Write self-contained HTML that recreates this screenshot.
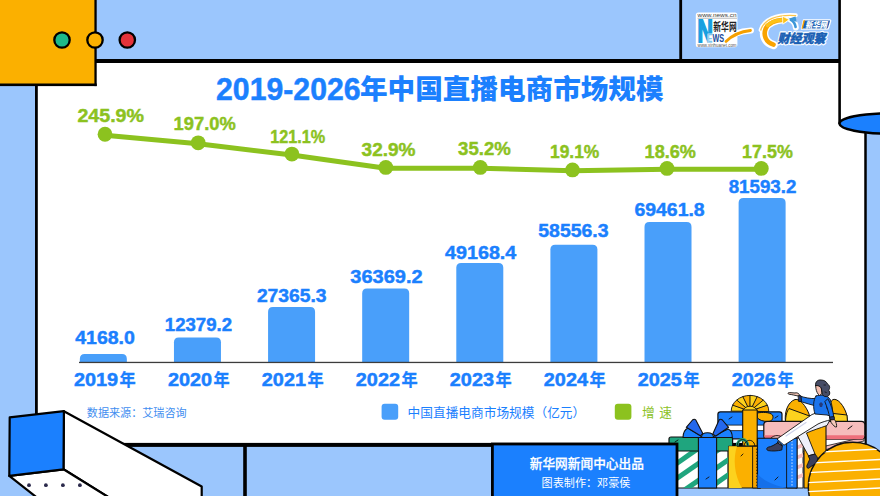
<!DOCTYPE html>
<html><head><meta charset="utf-8"><title>2019-2026年中国直播电商市场规模</title>
<style>
html,body{margin:0;padding:0;width:880px;height:496px;overflow:hidden;background:#9bc6fd;}
svg{display:block;position:absolute;left:0;top:0}
text{font-family:"Liberation Sans","Noto Sans CJK SC",sans-serif;}
.cjk{font-family:"Liberation Sans","Noto Sans CJK SC",sans-serif;}
</style></head><body>
<svg width="880" height="496" viewBox="0 0 880 496">
<!-- BACKGROUND -->
<rect width="880" height="496" fill="#9bc6fd"/>
<rect x="840" y="0" width="40" height="124" fill="#fff"/>
<rect x="37" y="61" width="803" height="384" fill="#fff"/>
<rect x="839" y="124" width="27" height="321" fill="#fff"/>

<!-- frame lines -->
<rect x="35" y="60" width="2.8" height="360" fill="#000"/>
<rect x="95" y="59" width="745" height="4" fill="#000"/>
<rect x="679.3" y="0" width="2.8" height="61" fill="#000"/>
<rect x="838.3" y="0" width="2.6" height="124" fill="#000"/>
<rect x="36" y="442.9" width="830" height="4" fill="#000"/>
<rect x="243.2" y="444" width="3.6" height="52" fill="#000"/>

<!-- orange box -->
<rect x="0" y="0" width="95.4" height="85" fill="#fbb000"/>
<rect x="94.4" y="0" width="2.3" height="86.1" fill="#000"/>
<rect x="0" y="83.5" width="96.7" height="2.6" fill="#000"/>
<circle cx="62" cy="40" r="7.7" fill="#1db98b" stroke="#000" stroke-width="2.3"/>
<circle cx="95" cy="40" r="7.7" fill="#fbb000" stroke="#000" stroke-width="2.3"/>
<circle cx="127.3" cy="40" r="7.7" fill="#e5333a" stroke="#000" stroke-width="2.3"/>

<!-- cylinder right -->
<rect x="865.5" y="124" width="20" height="380" fill="#9bc6fd" stroke="#000" stroke-width="2.5"/>
<ellipse cx="889.5" cy="123.5" rx="50" ry="10.2" fill="#1b80fe" stroke="#000" stroke-width="2.4"/>

<g id="illus" stroke-linejoin="round" stroke-linecap="round">
<!-- back blue gift -->
<rect x="717.9" y="411.8" width="64.1" height="27" rx="2.5" fill="#1b80fe" stroke="#111" stroke-width="1.2"/>
<rect x="718.4" y="425.1" width="63" height="5.5" fill="#fff" stroke="#111" stroke-width="0.8"/>
<path d="M757.5,413 C762,412 770,412 772.5,415 C774,418 772,421.5 768,421.5 C763,421.5 759,420 757.5,418 Z" fill="#fbb000" stroke="#111" stroke-width="1"/>
<path d="M729,419 l3,-2 M775,418 l3,-2" stroke="#111" stroke-width="0.9"/>
<!-- yellow fan bow -->
<g stroke="#111" stroke-width="0.9" stroke-linejoin="round">
<path d="M750,411.2 L731.20,411.20 A18.8,15.8 0 0 1 732.63,405.15 Z" fill="#fcd21e"/>
<path d="M750,411.2 L732.63,405.15 A18.8,15.8 0 0 1 736.71,400.03 Z" fill="#fbb000"/>
<path d="M750,411.2 L736.71,400.03 A18.8,15.8 0 0 1 742.81,396.60 Z" fill="#fcd21e"/>
<path d="M750,411.2 L742.81,396.60 A18.8,15.8 0 0 1 750.00,395.40 Z" fill="#fbb000"/>
<path d="M750,411.2 L750.00,395.40 A18.8,15.8 0 0 1 757.19,396.60 Z" fill="#fcd21e"/>
<path d="M750,411.2 L757.19,396.60 A18.8,15.8 0 0 1 763.29,400.03 Z" fill="#fbb000"/>
<path d="M750,411.2 L763.29,400.03 A18.8,15.8 0 0 1 767.37,405.15 Z" fill="#fcd21e"/>
<path d="M750,411.2 L767.37,405.15 A18.8,15.8 0 0 1 768.80,411.20 Z" fill="#fbb000"/>
<path d="M743,411.2 A7,5 0 0 1 757,411.2 Z" fill="#fcd21e"/>
</g>
<rect x="742.7" y="410" width="14.5" height="36" fill="#fbb000" stroke="#111" stroke-width="1.1"/>
<!-- orange bows behind pink box -->
<g stroke="#111" stroke-width="1">
<path d="M785.5,422 C784,412 788,402 795,399.5 C800,398.5 806,406 809,414 L811,422 Z" fill="#fbb000"/>
<path d="M785.5,422 C785.5,416 787,411 789,408.5 L809.5,416 L811,422 Z" fill="#fcd21e"/>
<path d="M826,422 C827,412 829,402 833,399.5 C838,398 844,406 846.5,414 L847.5,422 Z" fill="#fbb000"/>
<path d="M828,422 L829,413 L847,415 L847.5,422 Z" fill="#fcd21e"/>
</g>
<!-- pink gift -->
<rect x="790" y="438" width="75" height="16" fill="#fff" stroke="#111" stroke-width="1"/>
<path d="M800,452 L860,438 L864,438 L864,441 L806,454 Z" fill="#f6bcbc" stroke="#111" stroke-width="0.8"/>
<rect x="763.8" y="421.3" width="101" height="17.9" rx="3.5" fill="#f6bcbc" stroke="#111" stroke-width="1.2"/>
<path d="M764.5,435.3 H864.2 V436 Q864.2,439.2 861,439.2 H767.5 Q764.5,439.2 764.5,436.5 Z" fill="#ee6f7b"/>
<path d="M848,429 l4,-3" stroke="#111" stroke-width="1"/>
<!-- orange ribbon on pink -->
<rect x="804" y="421.5" width="22" height="66.5" fill="#fbb000" stroke="#111" stroke-width="1.1"/>
<!-- pink loops (ribbon coil) -->
<g fill="none" stroke="#111" stroke-width="0.9">
<path d="M768,446 C768,432 786,432 786,446" fill="#f6bcbc"/>
<path d="M772,446 C772,436 790,436 790,446"/>
</g>
<!-- green gift left -->
<rect x="676" y="450" width="52" height="38" fill="#fff" stroke="#111" stroke-width="1.2"/>
<g fill="#1fa57e">
<path d="M676,461 L690,451 L699,451 L676,467 Z"/>
<path d="M676,476 L712,451 L721,451 L676,482 Z"/>
<path d="M683,488 L728,457 L728,463 L692,488 Z"/>
<path d="M705,488 L728,472 L728,478 L714,488 Z"/>
</g>
<rect x="669" y="437" width="63.6" height="14" rx="2" fill="#1fa57e" stroke="#111" stroke-width="1.2"/>
<rect x="698.4" y="437" width="18.2" height="51" fill="#1b80fe" stroke="#111" stroke-width="1.1"/>
<path d="M675,442 l3,-2 M706,479 l3,-2" stroke="#111" stroke-width="0.9"/>
<!-- blue bow -->
<g stroke="#111" stroke-width="1.1" stroke-linejoin="round">
<path d="M683,437.5 C683,433 685,429.5 688,428 L701,436 L701,437.5 Z" fill="#1b80fe"/>
<path d="M732.3,437.5 C732.3,433 730.5,430 728,429 L714,436 L714,437.5 Z" fill="#1b80fe"/>
<path d="M686.3,427.3 L692.5,420 C693.5,419 695,419 695.8,420 L702.8,433.4 L700.4,435.8 Z" fill="#2468ee"/>
<path d="M728.6,427.3 L722.4,420 C721.4,419 719.9,419 719.1,420 L712.9,433.8 L715.5,436.2 Z" fill="#2468ee"/>
<path d="M701.5,437.5 C701.5,434 704,432.8 707.5,432.8 C711,432.8 713.5,434 713.5,437.5 Z" fill="#1b80fe"/>
</g>
<!-- green handles -->
<g fill="none" stroke="#111" stroke-width="1">
<path d="M737,447 C737,437 748,437 748,447" stroke-width="3" stroke="#1fa57e"/>
<path d="M737,447 C737,437 748,437 748,447"/>
<path d="M744,447 C744,438 755,438 755,447"/>
</g>
<!-- yellow bag -->
<path d="M728.7,446.3 H760.5 V488 H728.7 Z" fill="#fbb000" stroke="#111" stroke-width="1.1"/>
<path d="M728.7,446.3 H737 C733,458 734,475 742,488 H728.7 Z" fill="#fcd21e"/>
<rect x="753" y="446.3" width="7.5" height="41.7" fill="#f5a400" stroke="#111" stroke-width="0.9"/>
<path d="M756.7,449 V486" stroke="#111" stroke-width="0.8" stroke-dasharray="0.8 2.2"/>
<path d="M741,456 l2,-2" stroke="#111" stroke-width="0.9"/>
<!-- candy stick -->
<rect x="796" y="438" width="7" height="50" fill="#fff" stroke="#111" stroke-width="0.9"/>
<path d="M796,446 l7,-3 v4 l-7,3 z M796,456 l7,-3 v4 l-7,3 z M796,466 l7,-3 v4 l-7,3 z M796,476 l7,-3 v4 l-7,3 z" fill="#f6bcbc"/>
<!-- blue bag -->
<path d="M757.5,438.3 H797 V488 H757.5 Z" fill="#1b80fe" stroke="#111" stroke-width="1.1"/>
<path d="M757.5,474 C765,482 775,486 788,488 H757.5 Z" fill="#1570ea"/>
<rect x="787" y="438.3" width="10" height="49.7" fill="#1b80fe" stroke="#111" stroke-width="0.9"/>
<path d="M792,441 V486" stroke="#d8e8ff" stroke-width="0.9" stroke-dasharray="0.9 2.2"/>
<path d="M775,480 l3,-3" stroke="#111" stroke-width="0.9"/>
<!-- orange striped ball -->
<clipPath id="ballclip"><circle cx="852.8" cy="486.8" r="44.5"/></clipPath>
<circle cx="852.8" cy="486.8" r="44.5" fill="#fbb000" stroke="#111" stroke-width="1.4"/>
<g clip-path="url(#ballclip)" stroke="#fff" stroke-width="1.3" fill="none">
<path d="M800,453 L880,449"/>
<path d="M800,463.5 L880,459.5"/>
<path d="M800,473 L880,469"/>
<path d="M800,483 L880,479"/>
<path d="M800,492 L880,488"/>
</g>
<!-- woman -->
<g stroke="#111" stroke-width="0.9">
<!-- back leg -->
<path d="M831,418 L827,425.5 C820,428 812,430.5 806.5,433 L815,454 L808.5,455.8 L797,435 C796,432.5 797.5,430 800,428.5 C808,424 815,420 822,417 Z" fill="#eef0fa"/>
<path d="M808.5,455.8 L815,454 L816.8,456.5 C818.5,458.5 817.5,461.5 814,464.5 L808.5,468.3 C806.5,468.3 806.3,466 807.8,463.5 L809.6,459.5 Z" fill="#3b3f5c"/>
<!-- front leg -->
<path d="M830,410.5 L831.5,419.5 C826,421 822,422 818,424 L784,445.2 L777,439 L812,414.5 C818,412 824,411 830,410.5 Z" fill="#fff"/>
<path d="M786,436 L806,422.5" stroke="#cfd3ea" stroke-width="1.3"/>
<path d="M778,441.5 L782.5,445.5 L779,444.5 Z" fill="#f6c0b0"/>
<path d="M777.5,442.8 L782.3,446 L781.8,450 C777.5,451 772.5,451.3 768.2,450.6 C766.3,450.1 766.2,447.8 768.2,447.2 C771.5,446.6 774.5,445 777.5,442.8 Z" fill="#3b3f5c"/>
<!-- extended arm -->
<path d="M816,398.5 C810,399 805,397.5 799.5,396 L800.5,401.5 C806,403 811,405 816,406 Z" fill="#1b74ec"/>
<path d="M798.5,395.5 L801,395.8 L801.5,401.5 L799,401.5 Z" fill="#233a7a"/>
<path d="M798.5,396 C795,395.5 792,394.5 789,394.2 C787.5,393.8 787.8,392.4 789.5,392.6 L795,393 C796.5,392.5 798,393 799,394 Z" fill="#f6c8b8"/>
<!-- torso -->
<path d="M816,396 C821,394 828,395 830.5,400 C832,405 833,411 833,417 L827,415 L815,414 C813,408 813,400 816,396 Z" fill="#1b74ec"/>
<path d="M819,404 l2,-2 l2,2 l-1,3 l-2,0 z M826,407 l1.5,-1.5 l1.5,1.5 l-0.8,2 l-1.5,0 z" fill="#233a7a" stroke="none"/>
<!-- hanging arm -->
<path d="M828,399 C831,404 833,411 834,418 L830,419 C829,413 827,407 825,402 Z" fill="#1b74ec"/>
<path d="M830,417 L834,416.5 L834.5,419.5 L830.5,420 Z" fill="#233a7a"/>
<path d="M830.5,420 L834.5,419.5 C836,422 837,425 836.5,427 C835,427.5 833,425 831.5,423 Z" fill="#f6c8b8"/>
<!-- head -->
<path d="M816,385 L821,385.5 L822,393.5 L819.5,395.5 C817.5,394 816.5,391.5 816,389 Z" fill="#f6c0b0"/>
<path d="M815.6,385.5 C815,381.5 818,379.6 821,380 C824,380 826.5,381.5 827.5,384 C829.8,385.2 830.4,388.2 828.6,390.2 C830.6,392.2 830,396.2 826.6,396.6 C824,397 822.2,395.2 822.2,393 L821.2,388 C820.2,386.2 818,385.3 815.6,385.5 Z" fill="#474d66"/>
<path d="M824,385 l1.5,0 M825,392 l1.3,0.5" stroke="#111" stroke-width="0.8"/>
</g>
</g>

<!-- credit box -->
<rect x="492.4" y="444" width="184.6" height="60" fill="#1b80fe" stroke="#000" stroke-width="2.8"/>
<text x="586.8" y="467.6" text-anchor="middle" font-size="12.7" font-weight="500" fill="#fff" stroke="#fff" stroke-width="0.25">新华网新闻中心出品</text>
<text x="586" y="486.5" text-anchor="middle" font-size="11.1" fill="#fff">图表制作：邓豪侯</text>

<!-- 3D box bottom-left -->
<polygon points="63.9,411.2 201.7,486.5 201.7,500 113,500 63.5,469.3" fill="#fff" stroke="#000" stroke-width="2.2" stroke-linejoin="round"/>
<polygon points="9.3,475.9 63.5,469.3 113,500 40,500" fill="#fff" stroke="#000" stroke-width="2.2" stroke-linejoin="round"/>
<polygon points="9.7,417.4 63.9,411.2 63.5,469.3 9.3,475.9" fill="#1b80fe" stroke="#000" stroke-width="2.2" stroke-linejoin="round"/>
<g fill="#2b2a4c"><circle cx="29" cy="485.2" r="1.9"/><circle cx="45.9" cy="485.2" r="1.9"/><circle cx="62.9" cy="485.2" r="1.9"/><circle cx="79.9" cy="485.2" r="1.9"/></g>

<g id="logos">
<!-- news logo -->
<path d="M722,42 C730,35 741,31 751,30.5" stroke="#fff" stroke-width="6" fill="none" stroke-linecap="round"/>
<rect x="695.8" y="12.4" width="41.6" height="34.8" rx="2.5" fill="#fff"/>
<text x="717" y="17" text-anchor="middle" font-size="5.4" fill="#3a3a3a" font-family="Liberation Sans" textLength="39" lengthAdjust="spacingAndGlyphs">www.news.cn</text>
<rect x="697.5" y="17.8" width="39.5" height="0.7" fill="#9a9a9a"/>
<text x="697.6" y="41.6" font-size="30.5" font-weight="bold" fill="#16a0e0" stroke="#16a0e0" stroke-width="1.8" transform="translate(697.6,0) scale(0.7,1) translate(-697.6,0)">N</text>
<rect x="707.6" y="33.6" width="17" height="9" fill="#fff"/>
<text x="713.3" y="31" font-size="11.6" font-weight="bold" fill="#222" textLength="23.4" lengthAdjust="spacingAndGlyphs">新华网</text>
<text x="707.6" y="42.2" font-size="10.2" font-weight="bold" fill="#1a4c9a" textLength="16.5" lengthAdjust="spacingAndGlyphs"><tspan fill="#7ec7ef">E</tspan>WS</text>
<path d="M726,41.5 C732,35.5 741,31.5 750.5,30.5" stroke="#f5a000" stroke-width="2.8" fill="none" stroke-linecap="round"/>
<text x="717" y="46.6" text-anchor="middle" font-size="4.6" fill="#555" font-family="Liberation Sans" textLength="39" lengthAdjust="spacingAndGlyphs">www.xinhuanet.com</text>
<!-- finance logo -->
<g fill="none" stroke-linecap="round" stroke-linejoin="round">
<path d="M773.5,45 C765,42.5 762.5,35 765,28.5 C768,22.5 775.5,19.5 784,19" stroke="#fff" stroke-width="8.5"/>
<path d="M760.6,30.1 C762,25 766,20.5 772,18 C780,15 788,14.6 795.8,15.3" stroke="#fff" stroke-width="4"/>
<path d="M790.5,19.5 C793.5,21 795.5,24 795.8,27.5" stroke="#fff" stroke-width="6"/>
<path d="M773.5,44.6 C765.5,42.2 763.2,35 765.6,28.8 C768.4,23 775.5,20.2 783.5,19.8" stroke="#f9a300" stroke-width="4.6"/>
<path d="M767.5,25.5 C770.5,22 776,20.2 783.5,19.8" stroke="#fcc21a" stroke-width="3.6"/>
<path d="M760.8,30 C762.2,25.2 766.2,20.8 772.2,18.3 C780,15.4 788,15 795.6,15.6" stroke="#fcc64a" stroke-width="1.4"/>
<path d="M790.8,19.8 C793.6,21.2 795.2,24 795.6,27" stroke="#3d97d8" stroke-width="2.6"/>
</g>
<path d="M782.5,16.2 L789.2,19.6 L782.8,24.2 Z" fill="#fcc21a" stroke="#fff" stroke-width="0.8" stroke-linejoin="round"/>
<path d="M788.5,18.8 L795.5,16.5 L796.8,22 Z" fill="#3d97d8"/>
<path d="M803.5,19.9 H829.6 Q831,19.9 830.6,21.2 L828.6,28 Q828.3,29.2 827,29.2 H801.5 Z" fill="#1a5fb4" stroke="#fff" stroke-width="1.3" stroke-linejoin="round"/>
<path d="M803.4,20.3 H805 L802.9,28.8 H801.5 Z" fill="#f9a300"/>
<text x="805.2" y="27.9" font-size="8.6" font-weight="900" font-style="italic" fill="#fff" textLength="22" lengthAdjust="spacingAndGlyphs">新华网</text>
<text x="777.5" y="42.6" font-size="12.6" font-weight="900" font-style="italic" fill="#fff" stroke="#fff" stroke-width="2.6" stroke-linejoin="round" textLength="48" lengthAdjust="spacingAndGlyphs">财经观察</text>
<text x="777.5" y="42.6" font-size="12.6" font-weight="900" font-style="italic" fill="#1a5fb4" stroke="#1a5fb4" stroke-width="0.4" textLength="48" lengthAdjust="spacingAndGlyphs">财经观察</text>
</g>

<!-- TITLE -->
<text x="216" y="99.9" font-size="31.4" font-weight="bold" fill="#1b80fe" stroke="#1b80fe" stroke-width="0.5" textLength="144.6" lengthAdjust="spacingAndGlyphs">2019-2026</text>
<text x="360" y="99.2" font-size="27.6" font-weight="900" fill="#1b80fe">年中国直播电商市场规模</text>

<!-- CHART -->
<g id="chart">
<path d="M79.85,362.2 V358.90 Q79.85,354.10 84.65,354.10 H122.05 Q126.85,354.10 126.85,358.90 V362.2 Z" fill="#499ffa"/>
<path d="M173.96,362.2 V342.20 Q173.96,337.40 178.76,337.40 H216.16 Q220.96,337.40 220.96,342.20 V362.2 Z" fill="#499ffa"/>
<path d="M268.07,362.2 V311.90 Q268.07,307.10 272.87,307.10 H310.27 Q315.07,307.10 315.07,311.90 V362.2 Z" fill="#499ffa"/>
<path d="M362.18,362.2 V293.40 Q362.18,288.60 366.98,288.60 H404.38 Q409.18,288.60 409.18,293.40 V362.2 Z" fill="#499ffa"/>
<path d="M456.29,362.2 V267.70 Q456.29,262.90 461.09,262.90 H498.49 Q503.29,262.90 503.29,267.70 V362.2 Z" fill="#499ffa"/>
<path d="M550.40,362.2 V249.50 Q550.40,244.70 555.20,244.70 H592.60 Q597.40,244.70 597.40,249.50 V362.2 Z" fill="#499ffa"/>
<path d="M644.51,362.2 V226.90 Q644.51,222.10 649.31,222.10 H686.71 Q691.51,222.10 691.51,226.90 V362.2 Z" fill="#499ffa"/>
<path d="M738.62,362.2 V202.70 Q738.62,197.90 743.42,197.90 H780.82 Q785.62,197.90 785.62,202.70 V362.2 Z" fill="#499ffa"/>
<rect x="79" y="361.8" width="754" height="1.3" fill="#3c3c3c"/>
<text x="75.2" y="343.8" textLength="59.7" lengthAdjust="spacingAndGlyphs" font-size="18.2" font-weight="bold" fill="#1b80fe" stroke="#1b80fe" stroke-width="0.45">4168.0</text>
<text x="164.8" y="330.5" textLength="67.3" lengthAdjust="spacingAndGlyphs" font-size="18.2" font-weight="bold" fill="#1b80fe" stroke="#1b80fe" stroke-width="0.45">12379.2</text>
<text x="256.9" y="302.3" textLength="69.7" lengthAdjust="spacingAndGlyphs" font-size="18.2" font-weight="bold" fill="#1b80fe" stroke="#1b80fe" stroke-width="0.45">27365.3</text>
<text x="350.3" y="283.0" textLength="72.3" lengthAdjust="spacingAndGlyphs" font-size="18.2" font-weight="bold" fill="#1b80fe" stroke="#1b80fe" stroke-width="0.45">36369.2</text>
<text x="445.0" y="258.8" textLength="71.3" lengthAdjust="spacingAndGlyphs" font-size="18.2" font-weight="bold" fill="#1b80fe" stroke="#1b80fe" stroke-width="0.45">49168.4</text>
<text x="538.3" y="237.3" textLength="70.3" lengthAdjust="spacingAndGlyphs" font-size="18.2" font-weight="bold" fill="#1b80fe" stroke="#1b80fe" stroke-width="0.45">58556.3</text>
<text x="634.4" y="215.7" textLength="70.3" lengthAdjust="spacingAndGlyphs" font-size="18.2" font-weight="bold" fill="#1b80fe" stroke="#1b80fe" stroke-width="0.45">69461.8</text>
<text x="728.7" y="192.8" textLength="67.7" lengthAdjust="spacingAndGlyphs" font-size="18.2" font-weight="bold" fill="#1b80fe" stroke="#1b80fe" stroke-width="0.45">81593.2</text>
<text x="73.9" y="385.7" textLength="44.2" lengthAdjust="spacingAndGlyphs" font-size="18.8" font-weight="bold" fill="#1b80fe" stroke="#1b80fe" stroke-width="0.5">2019</text>
<text x="119.6" y="385.5" textLength="16.2" lengthAdjust="spacingAndGlyphs" font-size="17.6" font-weight="bold" fill="#1b80fe" stroke="#1b80fe" stroke-width="0.3">年</text>
<text x="167.9" y="385.7" textLength="44.2" lengthAdjust="spacingAndGlyphs" font-size="18.8" font-weight="bold" fill="#1b80fe" stroke="#1b80fe" stroke-width="0.5">2020</text>
<text x="213.6" y="385.5" textLength="16.2" lengthAdjust="spacingAndGlyphs" font-size="17.6" font-weight="bold" fill="#1b80fe" stroke="#1b80fe" stroke-width="0.3">年</text>
<text x="261.8" y="385.7" textLength="44.2" lengthAdjust="spacingAndGlyphs" font-size="18.8" font-weight="bold" fill="#1b80fe" stroke="#1b80fe" stroke-width="0.5">2021</text>
<text x="307.5" y="385.5" textLength="16.2" lengthAdjust="spacingAndGlyphs" font-size="17.6" font-weight="bold" fill="#1b80fe" stroke="#1b80fe" stroke-width="0.3">年</text>
<text x="355.8" y="385.7" textLength="44.2" lengthAdjust="spacingAndGlyphs" font-size="18.8" font-weight="bold" fill="#1b80fe" stroke="#1b80fe" stroke-width="0.5">2022</text>
<text x="401.5" y="385.5" textLength="16.2" lengthAdjust="spacingAndGlyphs" font-size="17.6" font-weight="bold" fill="#1b80fe" stroke="#1b80fe" stroke-width="0.3">年</text>
<text x="449.8" y="385.7" textLength="44.2" lengthAdjust="spacingAndGlyphs" font-size="18.8" font-weight="bold" fill="#1b80fe" stroke="#1b80fe" stroke-width="0.5">2023</text>
<text x="495.5" y="385.5" textLength="16.2" lengthAdjust="spacingAndGlyphs" font-size="17.6" font-weight="bold" fill="#1b80fe" stroke="#1b80fe" stroke-width="0.3">年</text>
<text x="543.8" y="385.7" textLength="44.2" lengthAdjust="spacingAndGlyphs" font-size="18.8" font-weight="bold" fill="#1b80fe" stroke="#1b80fe" stroke-width="0.5">2024</text>
<text x="589.5" y="385.5" textLength="16.2" lengthAdjust="spacingAndGlyphs" font-size="17.6" font-weight="bold" fill="#1b80fe" stroke="#1b80fe" stroke-width="0.3">年</text>
<text x="637.7" y="385.7" textLength="44.2" lengthAdjust="spacingAndGlyphs" font-size="18.8" font-weight="bold" fill="#1b80fe" stroke="#1b80fe" stroke-width="0.5">2025</text>
<text x="683.4" y="385.5" textLength="16.2" lengthAdjust="spacingAndGlyphs" font-size="17.6" font-weight="bold" fill="#1b80fe" stroke="#1b80fe" stroke-width="0.3">年</text>
<text x="731.7" y="385.7" textLength="44.2" lengthAdjust="spacingAndGlyphs" font-size="18.8" font-weight="bold" fill="#1b80fe" stroke="#1b80fe" stroke-width="0.5">2026</text>
<text x="777.4" y="385.5" textLength="16.2" lengthAdjust="spacingAndGlyphs" font-size="17.6" font-weight="bold" fill="#1b80fe" stroke="#1b80fe" stroke-width="0.3">年</text>
<path d="M105,135.15 L198.2,143.70 L291.9,155.00 L385.8,168.30 L480.3,168.30 L572.5,170.80 L667,169.30 L761.3,169.30" fill="none" stroke="#8cc21f" stroke-width="5" stroke-linejoin="round"/>
<circle cx="105" cy="134.25" r="7.4" fill="#8cc21f"/>
<circle cx="198.2" cy="142.8" r="7.4" fill="#8cc21f"/>
<circle cx="291.9" cy="154.1" r="7.4" fill="#8cc21f"/>
<circle cx="385.8" cy="167.4" r="7.4" fill="#8cc21f"/>
<circle cx="480.3" cy="167.4" r="7.4" fill="#8cc21f"/>
<circle cx="572.5" cy="169.9" r="7.4" fill="#8cc21f"/>
<circle cx="667" cy="168.4" r="7.4" fill="#8cc21f"/>
<circle cx="761.3" cy="168.4" r="7.4" fill="#8cc21f"/>
<text x="77.4" y="122.3" textLength="66.6" lengthAdjust="spacingAndGlyphs" font-size="18.6" font-weight="bold" fill="#8cc21f" stroke="#8cc21f" stroke-width="0.45">245.9%</text>
<text x="173.6" y="130.3" textLength="62.1" lengthAdjust="spacingAndGlyphs" font-size="18.6" font-weight="bold" fill="#8cc21f" stroke="#8cc21f" stroke-width="0.45">197.0%</text>
<text x="270.2" y="143.1" textLength="55.1" lengthAdjust="spacingAndGlyphs" font-size="18.6" font-weight="bold" fill="#8cc21f" stroke="#8cc21f" stroke-width="0.45">121.1%</text>
<text x="361.6" y="156.3" textLength="53.9" lengthAdjust="spacingAndGlyphs" font-size="18.6" font-weight="bold" fill="#8cc21f" stroke="#8cc21f" stroke-width="0.45">32.9%</text>
<text x="458.1" y="155.3" textLength="52.7" lengthAdjust="spacingAndGlyphs" font-size="18.6" font-weight="bold" fill="#8cc21f" stroke="#8cc21f" stroke-width="0.45">35.2%</text>
<text x="550.0" y="157.5" textLength="49.3" lengthAdjust="spacingAndGlyphs" font-size="18.6" font-weight="bold" fill="#8cc21f" stroke="#8cc21f" stroke-width="0.45">19.1%</text>
<text x="644.6" y="157.5" textLength="51.3" lengthAdjust="spacingAndGlyphs" font-size="18.6" font-weight="bold" fill="#8cc21f" stroke="#8cc21f" stroke-width="0.45">18.6%</text>
<text x="742.1" y="158.3" textLength="50.7" lengthAdjust="spacingAndGlyphs" font-size="18.6" font-weight="bold" fill="#8cc21f" stroke="#8cc21f" stroke-width="0.45">17.5%</text>
</g>

<!-- LEGEND -->
<text x="86.8" y="416.9" font-size="11.1" fill="#3f8ef0">数据来源：艾瑞咨询</text>
<rect x="381.6" y="403.8" width="16.6" height="16" rx="3" fill="#499ffa"/>
<text x="407.6" y="416.9" font-size="12.7" fill="#1b80fe">中国直播电商市场规模（亿元）</text>
<rect x="614.8" y="403.8" width="16.6" height="16" rx="3" fill="#8cc21f"/>
<text y="416.9" font-size="12.7" fill="#8cc21f"><tspan x="642">增</tspan><tspan x="659.2">速</tspan></text>

</svg>
</body></html>
